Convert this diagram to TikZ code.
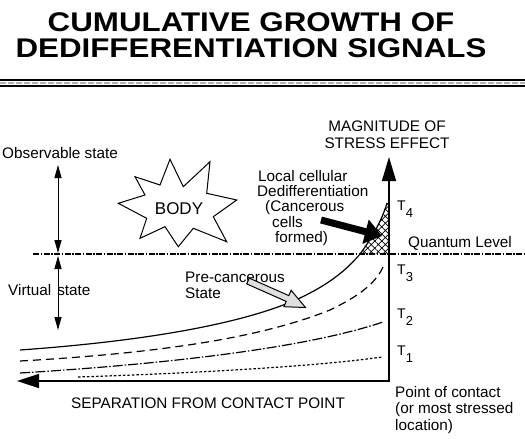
\documentclass[tikz,border=0pt]{standalone}
\usepackage{fontspec}
\setmainfont{Liberation Sans}
\usetikzlibrary{arrows.meta,patterns.meta,positioning}

\newcommand{\tsub}[1]{T\raisebox{-7pt}{\fontsize{13}{13}\selectfont #1}}

\begin{document}
\begin{tikzpicture}[x=1pt,y=-1pt,
    lbl/.style={font=\fontsize{15.3}{16.5}\selectfont,inner sep=0pt},
    tlbl/.style={font=\fontsize{14}{14}\selectfont,inner sep=0pt,anchor=west},
    curve/.style={line width=1.2pt},
    axis/.style={line width=1.5pt},
    small arrow/.style={line width=1pt,{Triangle[length=13pt,width=7pt]}-{Triangle[length=13pt,width=7pt]}}]
    \useasboundingbox (0,0) rectangle (525,439);

    % title and rule
    \node[font=\bfseries\fontsize{27}{25.5}\selectfont,align=center,inner sep=0pt]
      (title) at (251,35) {\scalebox{1.16}[1]{CUMULATIVE GROWTH OF}\\\scalebox{1.16}[1]{DEDIFFERENTIATION SIGNALS}};
    \draw[line width=2pt] (0,80) -- (525,80);
    \draw[gray!60,line width=1.5pt,dash pattern=on 6pt off 2pt] (0,83) -- (525,83);
    \draw[line width=1.2pt] (0,86) -- (525,86);

    % axes
    \coordinate (origin) at (389,381);
    \coordinate (xend) at (17,381);
    \coordinate (yend) at (389,157);
    \draw[axis,{Triangle[length=22pt,width=14pt]}-{Triangle[length=24pt,width=14pt]}]
      (xend) -- (origin) -- (yend);
    \node[lbl,align=center,font=\fontsize{15.3}{17}\selectfont] (ylabel) at (387,135) {MAGNITUDE OF\\STRESS EFFECT};
    \node[lbl] (xlabel) at (208,403) {SEPARATION FROM CONTACT POINT};
    \node[lbl,align=left,anchor=west] (contact) at (395,410)
      {Point of contact\\(or most stressed\\location)};

    % quantum level
    \draw[line width=1.5pt,dash pattern=on 6pt off 1.5pt on 1.5pt off 1.5pt] (33,254) -- (525,254);
    \node[lbl] (quantum) at (460,243) {Quantum Level};

    % states
    \node[lbl,anchor=west] (observable) at (2,153) {Observable state};
    \node[lbl,anchor=west] (virtual) at (8,290) {Virtual\hspace{6pt}state};
    \coordinate (obsTop) at (58,165);
    \coordinate (qUp) at (58,253);
    \coordinate (qDown) at (58,256);
    \coordinate (virtBot) at (58,330);
    \draw[small arrow] (obsTop) -- (qUp);
    \draw[small arrow] (qDown) -- (virtBot);

    % body
    \draw[line width=1pt,fill=white] (118.3,203.3) -- (145,195) -- (135,176.7) -- (160,185)
      -- (170,159.3) -- (183.3,186.7) -- (210,161.7) -- (206.7,193.3) -- (236.7,200)
      -- (213.3,216.7) -- (226.7,241.7) -- (193.3,228.3) -- (178.3,246.7) -- (165,226.7)
      -- (140,238.3) -- (146.7,218.3) -- cycle;
    \node[font=\fontsize{17}{17}\selectfont,inner sep=0pt] (body) at (179,209) {BODY};

    % cancerous region
    \fill[pattern={Hatch[angle=45,distance=5pt,line width=0.7pt]}] (360,254)
      .. controls (372,238) and (382,220) .. (387,203) -- (389,203) -- (389,254) -- cycle;
    \draw[line width=0.8pt] (387,203) -- (389,203);

    % growth curves
    \draw[curve] (20,350) .. controls (160,340) and (260,320) .. (310,293)
      .. controls (335,280) and (350,266) .. (360,254)
      .. controls (372,238) and (382,220) .. (387,203);
    \draw[curve,dash pattern=on 8pt off 5pt] (20,361) .. controls (180,352) and (270,334) .. (330,310)
      .. controls (355,298) and (375,285) .. (383,267);
    \draw[curve,dash pattern=on 10pt off 2pt on 1.5pt off 2pt] (20,373) .. controls (150,365) and (300,350) .. (383,322);
    \draw[curve,dash pattern=on 2.5pt off 2pt] (78,377) .. controls (200,373) and (320,366) .. (382,357);

    \node[tlbl] (t4) at (397,209) {\tsub{4}};
    \node[tlbl] (t3) at (397,273) {\tsub{3}};
    \node[tlbl] (t2) at (397,317) {\tsub{2}};
    \node[tlbl] (t1) at (397,354) {\tsub{1}};

    % pointers
    \node[lbl,align=left,anchor=west,font=\fontsize{15.3}{15.2}\selectfont] (local) at (257,208)
      {\hspace{1pt}Local cellular\\Dedifferentiation\\\hspace{8pt}(Cancerous\\\hspace{15pt}cells\\\hspace{18pt}formed)};
    \coordinate (blackTail) at (321,220);
    \coordinate (blackTip) at (382,236);
    \draw[line width=7pt,-{Triangle[length=17pt,width=24pt]}] (blackTail) -- (blackTip);

    \node[lbl,align=left,anchor=west,font=\fontsize{15.3}{16}\selectfont] (precancer) at (185,285) {Pre-cancerous\\State};
    \draw[line width=1pt,fill=gray!25] (246.7,283.9) -- (286.2,301.4) -- (283.9,306.7)
      -- (305.5,307.5) -- (291.1,290.3) -- (288.8,295.6) -- (249.3,278.1) -- cycle;
  \end{tikzpicture}
\end{document}
